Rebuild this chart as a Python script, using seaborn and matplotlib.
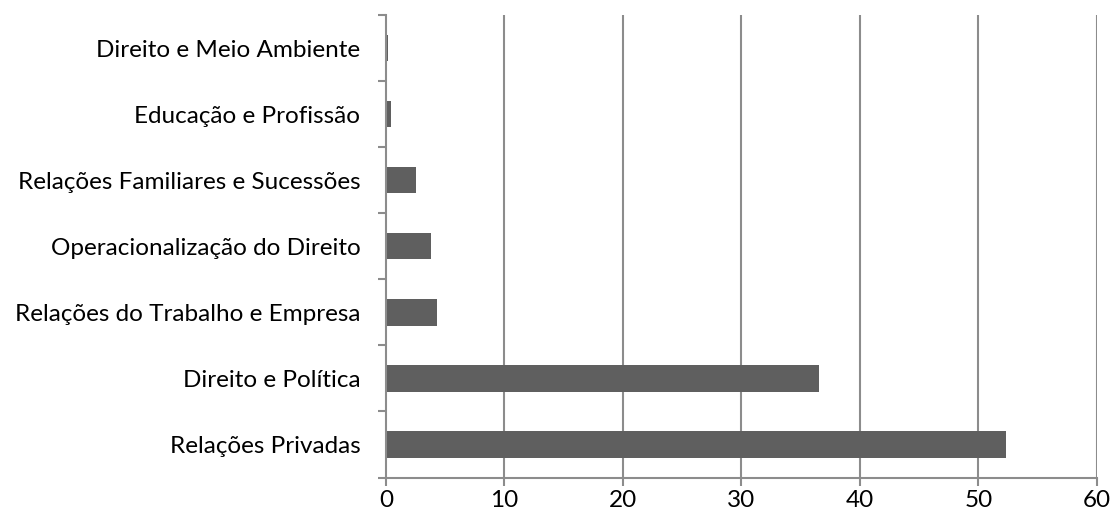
import matplotlib
matplotlib.use("Agg")
import matplotlib.pyplot as plt
import seaborn as sns
import pandas as pd
import numpy as np

categories = [
    "Direito e Meio Ambiente",
    "Educação e Profissão",
    "Relações Familiares e Sucessões",
    "Operacionalização do Direito",
    "Relações do Trabalho e Empresa",
    "Direito e Política",
    "Relações Privadas",
]
values = [0.15, 0.4, 2.5, 3.8, 4.3, 36.5, 52.3]
xticks = [0, 10, 20, 30, 40, 50, 60]

sns.set_theme(style="white")
plt.rcParams['font.family'] = ['Lato', 'DejaVu Sans']

df = pd.DataFrame({"cat": categories, "val": values})

fig = plt.figure(figsize=(11.13, 5.22), dpi=100)
ax = fig.add_axes([0.3468, 0.0852, 0.9856 - 0.3468, 0.9713 - 0.0852])

grid_c = "#8c8c8c"
ax.set_axisbelow(True)
for x in xticks[1:]:
    ax.axvline(x, color=grid_c, lw=1.5, zorder=0)

sns.barplot(data=df, x="val", y="cat", order=categories, color="#5f5f5f",
            saturation=1, width=0.4, linewidth=0, ax=ax, zorder=2)

ax.set_xlim(0, 60)
ax.set_ylim(6.5, -0.5)
ax.set_xticks(xticks)
ax.set_xticklabels([str(t) for t in xticks], fontsize=17.5, color="#000000")
ax.set_xlabel("")
ax.set_ylabel("")

ax.set_yticks(range(len(categories)))
ax.set_yticklabels(categories, fontsize=17.5, color="#000000")
ax.set_yticks(np.arange(-0.5, len(categories), 1.0), minor=True)
ax.tick_params(axis="y", which="major", length=0, pad=18.5)
ax.tick_params(axis="y", which="minor", length=5.8, width=1.5, color=grid_c, left=True)
ax.tick_params(axis="x", which="major", length=5.8, width=1.5, color=grid_c, bottom=True, pad=3)

for s in ["top", "right"]:
    ax.spines[s].set_visible(False)
for s in ["left", "bottom"]:
    ax.spines[s].set_color(grid_c)
    ax.spines[s].set_linewidth(1.5)

fig.savefig("out.png", dpi=100, facecolor="white")
